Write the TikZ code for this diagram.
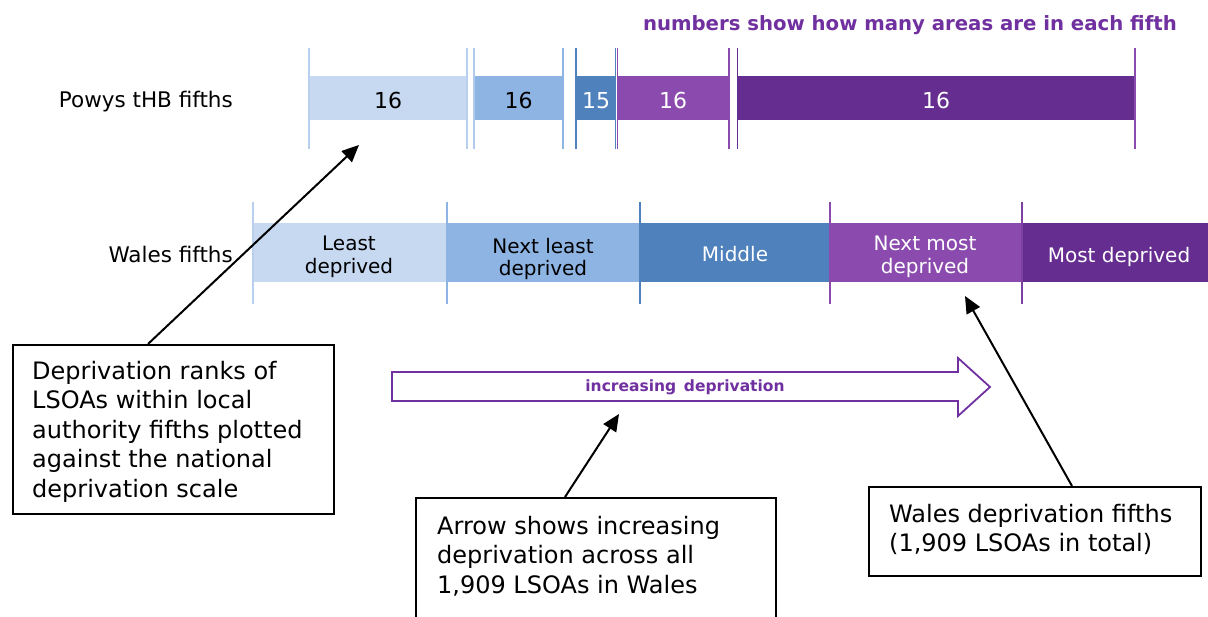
\documentclass[tikz,border=0pt]{standalone}
\usepackage{fontspec}
\setmainfont{DejaVu Sans}
\usetikzlibrary{arrows.meta}
\definecolor{cA}{HTML}{C6D9F1}
\definecolor{cB}{HTML}{8EB4E3}
\definecolor{cC}{HTML}{4F81BD}
\definecolor{cD}{HTML}{8B4BAE}
\definecolor{cE}{HTML}{662D91}
\definecolor{pur}{HTML}{7030A0}
\begin{document}
\begin{tikzpicture}[x=1pt,y=-1pt,
 seg/.style={draw=none,inner sep=0pt,minimum height=44pt,anchor=west},
 wseg/.style={draw=none,inner sep=0pt,minimum height=59pt,anchor=west},
 tick/.style={line width=1.5pt},
 num/.style={font=\fontsize{22}{26}\selectfont,anchor=base,inner sep=0pt},
 wlab/.style={font=\fontsize{20}{22.5}\selectfont,align=center,inner sep=0pt},
 rowlab/.style={font=\fontsize{21.5}{26}\selectfont,anchor=base east,inner sep=0pt},
 callout/.style={draw=black,line width=2pt,fill=white,inner sep=0pt,anchor=north west},
 ctext/.style={font=\fontsize{24}{29.5}\selectfont,align=left,inner sep=0pt,anchor=north west},
 pointer/.style={line width=2pt,-{Triangle[length=17pt,width=15pt]}}]
\useasboundingbox (0,0) rectangle (1208,617);
\clip (0,0) rectangle (1208,617);

% top note
\node[font=\fontsize{19.7}{23}\selectfont\bfseries, text=pur, anchor=base east, inner sep=0pt] (note) at (1177,31) {numbers show how many areas are in each fifth};

% Powys row
\node[rowlab] (powyslab) at (233,108) {Powys tHB fifths};
\node[seg, fill=cA, minimum width=158pt] (p1) at (309,98) {};
\node[seg, fill=cB, minimum width=89pt] (p2) at (474,98) {};
\node[seg, fill=cC, minimum width=40pt] (p3) at (576,98) {};
\node[seg, fill=cD, minimum width=112pt] (p4) at (617,98) {};
\node[seg, fill=cE, minimum width=398pt] (p5) at (737,98) {};
\draw[tick, cA!75!cB] (309,48) -- (309,149);
\draw[tick, cA!75!cB] (467,48) -- (467,149);
\draw[tick, cA!60!cB] (474,48) -- (474,149);
\draw[tick, cB] (563,48) -- (563,149);
\draw[tick, cC] (576,48) -- (576,149);
\draw[tick, cC] (615.5,48) -- (615.5,149);
\draw[tick, cD] (617.5,48) -- (617.5,149);
\draw[tick, cD] (729,48) -- (729,149);
\draw[tick, cE] (737.5,48) -- (737.5,149);
\draw[tick, cD] (1135,48) -- (1135,149);
\path (p1.south) ++(0,-12) node[num] (n1) {16};
\path (p2.south) ++(0,-12) node[num] (n2) {16};
\path (p3.south) ++(0,-12) node[num, text=white] (n3) {15};
\path (p4.south) ++(0,-12) node[num, text=white] (n4) {16};
\path (p5.south) ++(0,-12) node[num, text=white] (n5) {16};

% Wales row
\node[rowlab] (waleslab) at (233,263) {Wales fifths};
\node[wseg, fill=cA, minimum width=194pt] (w1) at (253,252.5) {};
\node[wseg, fill=cB, minimum width=193pt] (w2) at (447,252.5) {};
\node[wseg, fill=cC, minimum width=190pt] (w3) at (640,252.5) {};
\node[wseg, fill=cD, minimum width=192pt] (w4) at (830,252.5) {};
\node[wseg, fill=cE, minimum width=186pt] (w5) at (1022,252.5) {};
\draw[tick, cA!75!cB] (253,202) -- (253,304);
\draw[tick, cB] (447,202) -- (447,304);
\draw[tick, cC] (640,202) -- (640,304);
\draw[tick, cD] (830,202) -- (830,304);
\draw[tick, cD!60!cE] (1022,202) -- (1022,304);
\node[wlab] (l1) at (349,257) {Least\\deprived};
\node[wlab] (l2) at (543,259) {Next least\\deprived};
\node[wlab, text=white, anchor=base] (l3) at (735,262) {Middle};
\node[wlab, text=white] (l4) at (925,257) {Next most\\deprived};
\node[wlab, text=white, anchor=base] (l5) at (1119,263) {Most deprived};

% big arrow
\draw[pur, line width=1.8pt, fill=white, line join=miter]
  (392,372) -- (958,372) -- (958,358) -- (990,387) -- (958,416) -- (958,401) -- (392,401) -- cycle;
\node[font=\fontsize{15.5}{18}\selectfont\bfseries, text=pur, anchor=base, inner sep=0pt] (arrlab) at (685,392) {increasing\hspace{0.5em}deprivation};

% callouts
\coordinate (tip1) at (359,145);
\coordinate (tip2) at (619,414);
\coordinate (tip3) at (965,296);

\node[callout, minimum width=321pt, minimum height=169pt] (b1) at (12,344) {};
\node[ctext] (t1) at (32,361) {Deprivation ranks of\\LSOAs within local\\authority fifths plotted\\against the national\\deprivation scale};
\draw[pointer] ([xshift=136pt]b1.north west) -- (tip1);

\node[callout, minimum width=360pt, minimum height=150pt] (b2) at (415,497) {};
\node[ctext] (t2) at (437,516) {Arrow shows increasing\\deprivation across all\\1,909 LSOAs in Wales};
\draw[pointer] ([xshift=150pt]b2.north west) -- (tip2);

\node[callout, minimum width=332pt, minimum height=89pt] (b3) at (868,486) {};
\node[ctext] (t3) at (889,504) {Wales deprivation fifths\\(1,909 LSOAs in total)};
\draw[pointer] ([xshift=204pt]b3.north west) -- (tip3);
\end{tikzpicture}
\end{document}
